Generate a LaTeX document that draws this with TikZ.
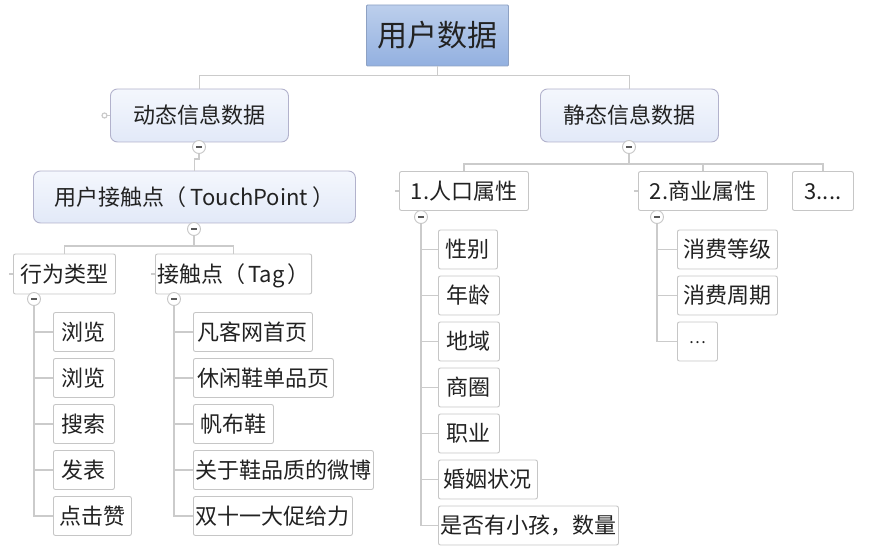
\documentclass[tikz,border=0pt]{standalone}
\usepackage{fontspec}
\setmainfont{Noto Sans CJK SC}
\definecolor{linegray}{HTML}{CBCBCB}
\definecolor{boxgray}{HTML}{C6C6C6}
\definecolor{txt}{HTML}{222222}
\definecolor{rootA}{HTML}{BCCFEC}
\definecolor{rootB}{HTML}{93B0E0}
\definecolor{topA}{HTML}{F4F7FD}
\definecolor{topB}{HTML}{E2E9F8}
\newcommand{\fsz}{\fontsize{22}{26}\selectfont}
\tikzset{
  conn/.style={draw=linegray, line width=1.8pt},
  stub/.style={draw=linegray, line width=1.2pt},
  box/.style={draw=boxgray, fill=white, rounded corners=2pt, line width=0.9pt,
    minimum height=39pt, inner xsep=2pt, inner ysep=0pt, anchor=west, font=\fsz, text=txt,
    text height=18pt, text depth=1.5pt},
  topic/.style={box, draw=boxgray!90!blue, top color=topA, bottom color=topB, rounded corners=7pt, minimum height=53pt},
  rootbox/.style={box, draw=rootB!70!gray, top color=rootA, bottom color=rootB, rounded corners=1pt,
    minimum height=61pt, font=\fontsize{30}{34}\selectfont, text height=24pt, text depth=1.2pt},
  coll/.style={circle, draw=boxgray, fill=white, line width=0.9pt, minimum size=13pt, inner sep=0pt,
    path picture={\draw[line width=1.6pt, draw=black!65] ([xshift=-3pt]path picture bounding box.center) -- ([xshift=3pt]path picture bounding box.center);}}
}
\begin{document}
\begin{tikzpicture}[x=1pt,y=-1pt]
\useasboundingbox (0,0) rectangle (879,553);
% root
\node[rootbox, minimum width=142pt] (root) at (366,35.5) {用户数据};
% level 1
\node[topic, minimum width=178pt] (dyn) at (110,115.5) {动态信息数据};
\node[topic, minimum width=178pt] (sta) at (540,115.5) {静态信息数据};
\draw[conn] (root.south) -- ++(0,9) -| (dyn.north);
\draw[conn] (root.south) -- ++(0,9) -| (sta.north);
\node[coll] (cdyn) at (199,147) {};
\node[coll] (csta) at (629,147) {};
\draw[stub] (dyn.west) -- ++(-3,0);
\draw[stub, fill=white] ([xshift=-5.5pt]dyn.west) circle (2.5pt);
% touchpoint
\node[topic, minimum width=322pt, minimum height=52pt] (tp) at (33,197) {用户接触点（\hspace{4pt}TouchPoint\hspace{4pt}）};
\draw[conn] (cdyn.south) -- ++(0,5) -| (tp.north);
\node[coll] (ctp) at (194,229) {};
% level 3 left
\node[box, minimum width=102pt, minimum height=40pt] (beh) at (13,274) {行为类型};
\node[box, minimum width=153pt, minimum height=40pt] (tag) at (155,274) {接触点（\hspace{3pt}Tag\hspace{3pt}）};
\draw[conn] (ctp.south) -- ++(0,10) -| (beh.north);
\draw[conn] (ctp.south) -- ++(0,10) -| (tag.north);
\draw[stub] (beh.west) -- ++(-4,0);
\draw[stub] (tag.west) -- ++(-4,0);
\node[coll] (cbeh) at (34,299) {};
\node[coll] (ctag) at (174,299) {};
% behaviour children
\node[box, minimum width=61pt] (b1) at (53,332) {浏览};
\node[box, minimum width=61pt] (b2) at (53,378) {浏览};
\node[box, minimum width=61pt] (b3) at (53,424) {搜索};
\node[box, minimum width=61pt] (b4) at (53,470) {发表};
\node[box, minimum width=78pt] (b5) at (53,516) {点击赞};
\foreach \n in {b1,b2,b3,b4,b5} \draw[conn] (cbeh.south) |- (\n.west);
% tag children
\node[box, minimum width=119pt] (t1) at (193,332) {凡客网首页};
\node[box, minimum width=140pt] (t2) at (193,378) {休闲鞋单品页};
\node[box, minimum width=80pt] (t3) at (193,424) {帆布鞋};
\node[box, minimum width=178pt] (t4) at (193,470) {关于鞋品质的微博};
\node[box, minimum width=159pt] (t5) at (193,516) {双十一大促给力};
\foreach \n in {t1,t2,t3,t4,t5} \draw[conn] (ctag.south) |- (\n.west);
% right level 2
\node[box, minimum width=129pt] (p1) at (399,191) {1.人口属性};
\node[box, minimum width=129pt] (p2) at (638,191) {2.商业属性};
\node[box, minimum width=61pt] (p3) at (792,191) {3....};
\draw[conn] (csta.south) -- ++(0,10) -| (p1.north);
\draw[conn] (csta.south) -- ++(0,10) -| (p2.north);
\draw[conn] (csta.south) -- ++(0,10) -| (p3.north);
\draw[stub] (p1.west) -- ++(-4,0);
\draw[stub] (p2.west) -- ++(-4,0);
\node[coll] (cp1) at (421,217) {};
\node[coll] (cp2) at (657,217) {};
% population children
\node[box, minimum width=59pt] (r1) at (438,249.5) {性别};
\node[box, minimum width=61pt] (r2) at (438,295.5) {年龄};
\node[box, minimum width=61pt] (r3) at (438,341.5) {地域};
\node[box, minimum width=61pt] (r4) at (438,387.5) {商圈};
\node[box, minimum width=61pt] (r5) at (438,433.5) {职业};
\node[box, minimum width=99pt] (r6) at (438,479.5) {婚姻状况};
\node[box, minimum width=175pt] (r7) at (438,525.5) {是否有小孩，数量};
\foreach \n in {r1,r2,r3,r4,r5,r6,r7} \draw[conn] (cp1.south) |- (\n.west);
% business children
\node[box, minimum width=100pt] (s1) at (677,249.5) {消费等级};
\node[box, minimum width=100pt] (s2) at (677,295.5) {消费周期};
\node[box, minimum width=40pt] (s3) at (677,341.5) {\raisebox{6pt}{\fontsize{16}{18}\selectfont …}};
\foreach \n in {s1,s2,s3} \draw[conn] (cp2.south) |- (\n.west);
\end{tikzpicture}
\end{document}
